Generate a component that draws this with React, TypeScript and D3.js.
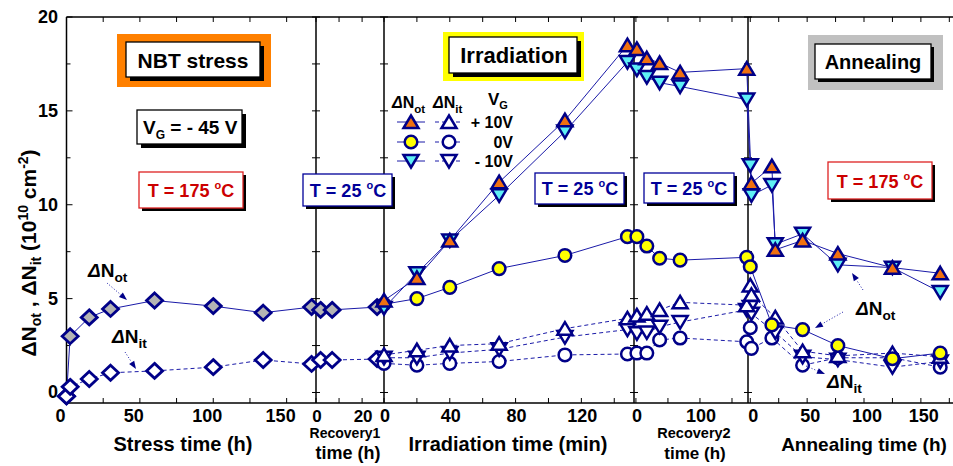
import React from 'react';
import * as d3 from 'd3';

const W = 953;
const H = 466;
const NAVY = '#000088';
const LINE = '#1a1aa8';
const FONT = '"Liberation Sans", Arial, sans-serif';

// ---- data ----
const stressTime = [0, 2.5, 15.5, 30, 60, 100, 134, 167];
const stressNot = [-0.2, 3.0, 4.0, 4.45, 4.9, 4.6, 4.25, 4.55];
const stressNit = [-0.2, 0.3, 0.72, 1.05, 1.15, 1.35, 1.73, 1.52];

const rec1Time = [2, 7, 26.5];
const rec1Not = [4.4, 4.4, 4.55];
const rec1Nit = [1.73, 1.73, 1.78];

const irrTime = [0, 20, 40, 70, 110, 148];
const irrNotPlus = [4.9, 6.1, 8.1, 11.2, 14.5, 18.5];
const irrNotZero = [4.7, 5.0, 5.6, 6.6, 7.3, 8.3];
const irrNotMinus = [4.5, 6.35, 8.1, 10.5, 13.9, 17.6];
const irrNitPlus = [2.0, 2.25, 2.5, 2.6, 3.4, 3.95];
const irrNitZero = [1.55, 1.45, 1.55, 1.65, 2.0, 2.05];
const irrNitMinus = [1.85, 1.85, 2.1, 2.3, 2.95, 3.35];

const rec2Time = [1.5, 17, 37, 69, 173];
const rec2NotPlus = [18.3, 17.8, 17.55, 17.05, 17.25];
const rec2NotZero = [8.3, 7.8, 7.15, 7.05, 7.2];
const rec2NotMinus = [17.2, 16.8, 16.5, 16.3, 15.6];
const rec2NitPlus = [4.1, 4.2, 4.4, 4.8, 4.65];
const rec2NitZero = [2.1, 2.1, 2.8, 2.9, 2.7];
const rec2NitMinus = [3.15, 3.2, 3.5, 3.75, 4.4];

const annTime = [0, 1, 19, 22, 46, 77, 125, 167];
const annNotPlus = [null, 11.15, 12.05, 7.6, 8.1, 7.4, 6.65, 6.35];
const annNotZero = [6.7, null, 3.6, null, 3.35, 2.5, 1.8, 2.1];
const annNotMinus = [12.1, 10.5, 11.05, 7.9, 8.45, 6.8, 6.65, 5.35];
const annNitPlus = [5.7, 5.2, null, 4.0, 2.2, 1.95, 2.1, 1.9];
const annNitZero = [3.45, 2.35, 2.9, null, 1.45, 1.85, 1.85, 1.35];
const annNitMinus = [4.55, 4.2, null, 3.2, 1.9, 1.75, 1.35, 1.65];

const yTicks = [0, 2.5, 5, 7.5, 10, 12.5, 15, 17.5, 20];
const yLabels = [0, 5, 10, 15, 20];

const stressTicks = [0, 25, 50, 75, 100, 125, 150];
const stressLabels = [0, 50, 100, 150];
const rec1Ticks = [0, 10, 20];
const rec1Labels = [0, 20];
const irrTicks = [0, 20, 40, 60, 80, 100, 120, 140];
const irrLabels = [0, 40, 80, 120];
const rec2Ticks = [0, 50, 100, 150];
const rec2Labels = [0, 100];
const annTicks = [0, 25, 50, 75, 100, 125, 150, 175];
const annLabels = [0, 50, 100, 150];

// ---- scales ----
const panelDomains: [number, number][] = [[0, 170], [0, 29.5], [0, 152], [-3, 175], [-2, 180]];
const panelRanges: [number, number][] = [[66.5, 316], [316, 384], [384, 634], [634, 748], [748, 955]];
const xs = panelDomains.map((d, i) => d3.scaleLinear().domain(d).range(panelRanges[i]));
const y = d3.scaleLinear().domain([-0.56, 20]).range([403, 17]);

type Pt = { p: number; t: number; v: number };
function seg(p: number, times: number[], vals: (number | null)[]): Pt[] {
  const out: Pt[] = [];
  times.forEach((t, i) => {
    const v = vals[i];
    if (v !== null && v !== undefined) out.push({ p, t, v });
  });
  return out;
}

const line = d3.line<Pt>().x(d => xs[d.p](d.t)).y(d => y(d.v));

const DIAMOND = 'M0,-7.5L8,0L0,7.5L-8,0Z';
const TRI_UP = 'M0,-6.5L7.5,6L-7.5,6Z';
const TRI_DOWN = 'M0,6.5L7.5,-6L-7.5,-6Z';

type Series = { pts: Pt[]; shape: string; fill: string; dashed: boolean };

const series: Series[] = [
  { pts: [...seg(0, stressTime, stressNot), ...seg(1, rec1Time, rec1Not)], shape: 'diamond', fill: '#b4b4b4', dashed: false },
  { pts: [...seg(0, stressTime, stressNit), ...seg(1, rec1Time, rec1Nit)], shape: 'diamond', fill: '#fff', dashed: true },
  { pts: [...seg(2, irrTime, irrNitZero), ...seg(3, rec2Time, rec2NitZero), ...seg(4, annTime, annNitZero)], shape: 'circle', fill: '#fff', dashed: true },
  { pts: [...seg(2, irrTime, irrNitMinus), ...seg(3, rec2Time, rec2NitMinus), ...seg(4, annTime, annNitMinus)], shape: 'down', fill: '#fff', dashed: true },
  { pts: [...seg(2, irrTime, irrNitPlus), ...seg(3, rec2Time, rec2NitPlus), ...seg(4, annTime, annNitPlus)], shape: 'up', fill: '#fff', dashed: true },
  { pts: [...seg(2, irrTime, irrNotZero), ...seg(3, rec2Time, rec2NotZero), ...seg(4, annTime, annNotZero)], shape: 'circle', fill: '#ffff00', dashed: false },
  { pts: [...seg(2, irrTime, irrNotMinus), ...seg(3, rec2Time, rec2NotMinus), ...seg(4, annTime, annNotMinus)], shape: 'down', fill: '#5ef0f5', dashed: false },
  { pts: [...seg(2, irrTime, irrNotPlus), ...seg(3, rec2Time, rec2NotPlus), ...seg(4, annTime, annNotPlus)], shape: 'up', fill: '#f07010', dashed: false },
];

function Marker({ shape, fill, x, y: yy }: { shape: string; fill: string; x: number; y: number }) {
  if (shape === 'circle') return <circle cx={x} cy={yy} r={6.3} fill={fill} stroke={NAVY} strokeWidth={2.5} />;
  const d = shape === 'diamond' ? DIAMOND : shape === 'up' ? TRI_UP : TRI_DOWN;
  return <path d={d} transform={`translate(${x},${yy})`} fill={fill} stroke={NAVY} strokeWidth={shape === 'diamond' ? 2.8 : 2.5} strokeLinejoin="miter" />;
}

function ShadowBox({ x, y: yy, w, h, stroke, off = 4 }: { x: number; y: number; w: number; h: number; stroke: string; off?: number }) {
  return (
    <g>
      <rect x={x + off} y={yy + off} width={w} height={h} fill="#000" />
      <rect x={x} y={yy} width={w} height={h} fill="#fff" stroke={stroke} strokeWidth={1.3} />
    </g>
  );
}

function TempText({ x, y: yy, val, color }: { x: number; y: number; val: string; color: string }) {
  return (
    <text x={x} y={yy} textAnchor="middle" fontSize={18} fontWeight="bold" fill={color}>
      {`T = ${val} `}
      <tspan dy={-8} fontSize={11}>o</tspan>
      <tspan dy={8}>C</tspan>
    </text>
  );
}

function DN({ x, y: yy, sub, size = 19 }: { x: number; y: number; sub: string; size?: number }) {
  return (
    <text x={x} y={yy} fontSize={size} fontWeight="bold" fill="#000">
      <tspan fontStyle="italic">Δ</tspan>N
      <tspan dy={5} fontSize={size * 0.72}>{sub}</tspan>
    </text>
  );
}

function Arrow({ x1, y1, x2, y2 }: { x1: number; y1: number; x2: number; y2: number }) {
  const a = Math.atan2(y2 - y1, x2 - x1);
  const L = 8, Wd = 3;
  const bx = x2 - L * Math.cos(a), by = y2 - L * Math.sin(a);
  const p1 = [bx + Wd * Math.sin(a), by - Wd * Math.cos(a)];
  const p2 = [bx - Wd * Math.sin(a), by + Wd * Math.cos(a)];
  return (
    <g>
      <line x1={x1} y1={y1} x2={bx} y2={by} stroke={LINE} strokeWidth={1} strokeDasharray="1,2" />
      <path d={`M${x2},${y2}L${p1[0]},${p1[1]}L${p2[0]},${p2[1]}Z`} fill={NAVY} />
    </g>
  );
}

export default function App() {
  const tickSets = [
    { ticks: stressTicks, labels: stressLabels, dx: -6 },
    { ticks: rec1Ticks, labels: rec1Labels, dx: 1 },
    { ticks: irrTicks, labels: irrLabels, dx: 1 },
    { ticks: rec2Ticks, labels: rec2Labels, dx: 1 },
    { ticks: annTicks, labels: annLabels, dx: 3 },
  ];
  const dividers = [316, 384, 634, 748];
  const top = 17, bottom = 403, left = 66.5;

  return (
    <svg width={W} height={H} style={{ position: 'absolute', left: 0, top: 0, background: '#fff' }} fontFamily={FONT}>
      <rect x={0} y={0} width={W} height={H} fill="#fff" />

      {/* frame */}
      <line x1={left} y1={top} x2={W} y2={top} stroke="#000" strokeWidth={1.3} />
      <line x1={left} y1={bottom} x2={W} y2={bottom} stroke="#000" strokeWidth={1.3} />
      <line x1={left} y1={top} x2={left} y2={bottom} stroke="#000" strokeWidth={1.5} />
      {dividers.map(x => (
        <line key={x} x1={x} y1={top} x2={x} y2={bottom} stroke="#000" strokeWidth={1.5} />
      ))}

      {/* y ticks */}
      {yTicks.map(v => (
        <g key={v}>
          <line x1={left} x2={left + (v % 5 === 0 ? 6 : 4)} y1={y(v)} y2={y(v)} stroke="#000" strokeWidth={1} />
          {dividers.map(x => (
            <line key={x} x1={x - 4} x2={x + 4} y1={y(v)} y2={y(v)} stroke="#000" strokeWidth={1} />
          ))}
        </g>
      ))}
      {yLabels.map(v => (
        <text key={v} x={58} y={y(v) + 6} textAnchor="end" fontSize={18} fontWeight="bold">{v}</text>
      ))}

      {/* x ticks */}
      {tickSets.map((ts, i) => (
        <g key={i}>
          {ts.ticks.map(t => (
            <g key={t}>
              <line x1={xs[i](t)} x2={xs[i](t)} y1={bottom} y2={bottom - 5} stroke="#000" strokeWidth={1} />
              <line x1={xs[i](t)} x2={xs[i](t)} y1={top} y2={top + 5} stroke="#000" strokeWidth={1} />
            </g>
          ))}
          {ts.labels.map(t => (
            <text key={t} x={xs[i](t) + ts.dx} y={422} textAnchor="middle" fontSize={i === 1 ? 17 : 18} fontWeight="bold">{t}</text>
          ))}
        </g>
      ))}

      {/* axis titles */}
      <g fontWeight="bold" textAnchor="middle">
        <text x={183} y={451} fontSize={20}>Stress time (h)</text>
        <text x={345} y={438} fontSize={14}>Recovery1</text>
        <text x={348} y={459} fontSize={18}>time (h)</text>
        <text x={508} y={451} fontSize={20}>Irradiation time (min)</text>
        <text x={694} y={438} fontSize={14.5}>Recovery2</text>
        <text x={695} y={459} fontSize={17}>time (h)</text>
        <text x={864} y={451} fontSize={19}>Annealing time (h)</text>
      </g>

      <text transform="translate(36,253) rotate(-90)" textAnchor="middle" fontSize={21} fontWeight="bold">
        ΔN<tspan dy={5} fontSize={14}>ot</tspan>
        <tspan dy={-5}> , ΔN</tspan>
        <tspan dy={5} fontSize={14}>it</tspan>
        <tspan dy={-5}> (10</tspan>
        <tspan dy={-8} fontSize={14}>10</tspan>
        <tspan dy={8}> cm</tspan>
        <tspan dy={-8} fontSize={14}>-2</tspan>
        <tspan dy={8}>)</tspan>
      </text>

      {/* boxes */}
      <rect x={117} y={34} width={154} height={53} fill="#ff8000" />
      <ShadowBox x={126} y={42} w={134} h={35} stroke="#000" />
      <text x={193} y={68} textAnchor="middle" fontSize={21} fontWeight="bold">NBT stress</text>

      <ShadowBox x={137} y={110} w={105} h={34} stroke="#000" />
      <text x={143} y={134} fontSize={19} fontWeight="bold">
        V<tspan dy={5} fontSize={12}>G</tspan>
        <tspan dy={-5}> = - 45 V</tspan>
      </text>

      <ShadowBox x={139} y={172} w={104} h={36} stroke="#dd2222" off={3} />
      <TempText x={191} y={197} val="175" color="#cc0000" />

      <ShadowBox x={303} y={174} w={89} h={32} stroke="#000099" off={3} />
      <TempText x={348} y={197} val="25" color="#000099" />
      <ShadowBox x={535} y={173} w={89} h={31} stroke="#000099" off={3} />
      <TempText x={580} y={195} val="25" color="#000099" />
      <ShadowBox x={644} y={173} w={90} h={30} stroke="#000099" off={3} />
      <TempText x={689} y={195} val="25" color="#000099" />

      <rect x={443} y={32} width={141} height={49} fill="#ffff00" />
      <ShadowBox x={449} y={37} w={128} h={36} stroke="#000" />
      <text x={514} y={63} textAnchor="middle" fontSize={22} fontWeight="bold">Irradiation</text>

      <rect x={808} y={35} width={135} height={55} fill="#c0c0c0" />
      <ShadowBox x={815} y={44} w={116} h={35} stroke="#000" off={3} />
      <text x={873} y={69} textAnchor="middle" fontSize={20} fontWeight="bold">Annealing</text>

      <ShadowBox x={828} y={162} w={104} h={37} stroke="#dd2222" off={3} />
      <TempText x={880} y={188} val="175" color="#cc0000" />

      {/* data lines */}
      {series.map((s, i) => (
        <path key={i} d={line(s.pts) || ''} fill="none" stroke={LINE} strokeWidth={1}
          strokeDasharray={s.dashed ? '4,3' : undefined} />
      ))}
      {/* markers */}
      {series.map((s, i) => (
        <g key={i}>
          {s.pts.map((d, j) => (
            <Marker key={j} shape={s.shape} fill={s.fill} x={xs[d.p](d.t)} y={y(d.v)} />
          ))}
        </g>
      ))}

      {/* legend */}
      <DN x={392} y={108} sub="ot" size={16} />
      <DN x={433} y={108} sub="it" size={16} />
      <text x={488} y={105} fontSize={17} fontWeight="bold">V<tspan dy={4} fontSize={11}>G</tspan></text>
      {[
        { shape: 'up', fill: '#f07010', label: '+ 10V', yy: 122 },
        { shape: 'circle', fill: '#ffff00', label: '0V', yy: 142 },
        { shape: 'down', fill: '#5ef0f5', label: '- 10V', yy: 161 },
      ].map(r => (
        <g key={r.label}>
          <line x1={397} x2={425} y1={r.yy} y2={r.yy} stroke={LINE} strokeWidth={1} />
          <Marker shape={r.shape} fill={r.fill} x={411} y={r.yy} />
          <line x1={435} x2={463} y1={r.yy} y2={r.yy} stroke={LINE} strokeWidth={1} strokeDasharray="4,3" />
          <Marker shape={r.shape} fill="#fff" x={449} y={r.yy} />
          <text x={513} y={r.yy + 6} textAnchor="end" fontSize={16} fontWeight="bold">{r.label}</text>
        </g>
      ))}

      {/* annotations */}
      <DN x={88} y={277} sub="ot" />
      <Arrow x1={107} y1={283} x2={127} y2={300} />
      <DN x={112} y={343} sub="it" />
      <Arrow x1={125} y1={352} x2={136} y2={369} />
      <DN x={856} y={315} sub="ot" />
      <Arrow x1={863} y1={290} x2={852} y2={273} />
      <Arrow x1={843} y1={312} x2={815} y2={328} />
      <DN x={827} y={388} sub="it" />
      <Arrow x1={806} y1={366} x2={825} y2={374} />
    </svg>
  );
}
